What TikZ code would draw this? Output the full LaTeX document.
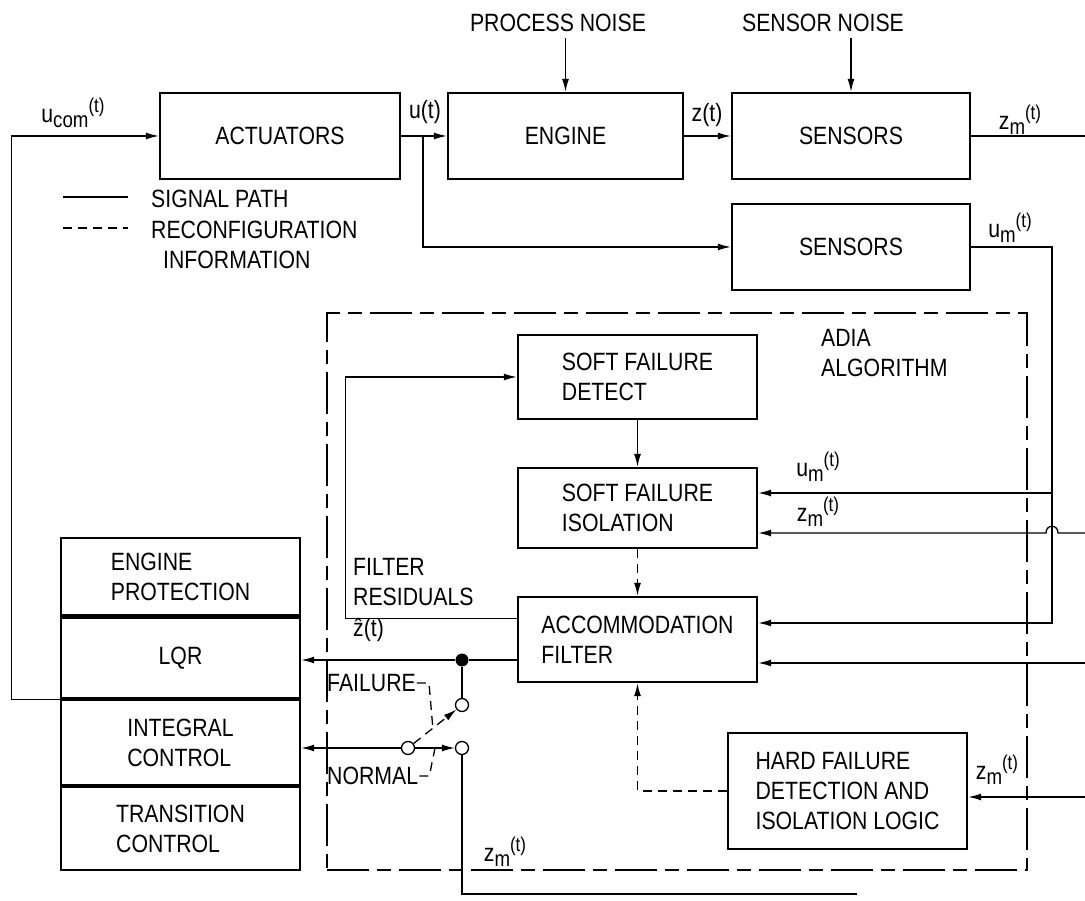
\documentclass[tikz,border=0pt]{standalone}
\usepackage{fontspec}
\setmainfont{Liberation Sans}[FakeStretch=0.85]
\usepackage{tikz}
\usetikzlibrary{arrows.meta,positioning,calc}

\newcommand{\dgfont}{\fontsize{25}{30}\selectfont}
\newcommand{\sig}[2]{#1\raisebox{-0.4ex}{\fontsize{22}{22}\selectfont #2}\raisebox{0.7ex}{\fontsize{20}{20}\selectfont(t)}}

\begin{document}
\begin{tikzpicture}[x=1pt, y=-1pt,
  blk/.style={draw, line width=2.4pt, minimum width=239pt, minimum height=85pt,
              align=left, font=\dgfont, inner sep=2pt},
  txt/.style={font=\dgfont, inner sep=1pt},
  sigl/.style={line width=1.3pt},
  arr/.style={-{Latex[length=13pt,width=7pt]}},
  recon/.style={line width=1.3pt, dash pattern=on 9pt off 6pt},
  adia/.style={draw, line width=1.4pt, dash pattern=on 42pt off 8pt on 14pt off 8pt},
  swnode/.style={circle, draw, line width=1.3pt, minimum size=13pt, inner sep=0pt, fill=white},
  jdot/.style={circle, fill, minimum size=13pt, inner sep=0pt}
]
  \useasboundingbox (0,0) rectangle (1085,901);

  % plant
  \node[blk, minimum width=240pt, minimum height=86pt] (act)   at (280,136)   {ACTUATORS};
  \node[blk, minimum width=235pt, minimum height=86pt] (eng)   at (565.5,136) {ENGINE};
  \node[blk, minimum width=238pt, minimum height=86pt] (sens1) at (851,136)   {SENSORS};
  \node[blk, minimum width=238pt, minimum height=86pt] (sens2) at (851,247)   {SENSORS};

  \node[txt] (pnoise) at (558,23) {PROCESS NOISE};
  \node[txt] (snoise) at (823,23) {SENSOR NOISE};
  \draw[sigl,arr] ([yshift=-5pt]pnoise.south -| eng.north) -- (eng.north);
  \draw[sigl,arr] ([yshift=-5pt]snoise.south -| sens1.north) -- (sens1.north);

  % legend
  \draw[sigl]  (63,197) -- (128,197);
  \draw[recon] (63,228) -- (128,228);
  \node[txt, anchor=west] (lsig) at (150,199) {SIGNAL PATH};
  \node[txt, anchor=west, align=left] (lrec) at (150,245) {RECONFIGURATION\\\hspace{12pt}INFORMATION};

  % controller
  \node[blk, minimum height=77pt] (prot)  at (180.5,576.5) {ENGINE\\PROTECTION};
  \node[blk, minimum height=81pt] (lqr)   at (180.5,658)   {LQR};
  \node[blk, minimum height=85pt] (integ) at (180.5,742.5) {INTEGRAL\\CONTROL};
  \node[blk, minimum height=83pt] (trans) at (180.5,828.5) {TRANSITION\\CONTROL};

  % ADIA algorithm
  \node[adia, minimum width=700pt, minimum height=557pt] (adia) at (677,591.5) {};
  \node[txt, anchor=north west, align=left] (adialbl) at (820,328) {ADIA\\ALGORITHM};

  \node[blk, minimum height=84pt]  (sfd) at (637.5,377) {SOFT FAILURE\\DETECT};
  \node[blk, minimum height=80pt]  (sfi) at (637.5,508) {SOFT FAILURE\\ISOLATION};
  \node[blk, minimum height=85pt]  (acc) at (637.5,639.5) {ACCOMMODATION\\FILTER};
  \node[blk, minimum height=116pt] (hfd) at (847.5,791) {HARD FAILURE\\DETECTION AND\\ISOLATION LOGIC};

  % switch
  \node[jdot]   (jn)  at (462,660) {};
  \node[swnode] (swf) at (462,705) {};
  \node[swnode] (swn) at (462,748) {};
  \node[swnode] (swc) at (408,748) {};

  % forward path
  \draw[sigl,arr] (act) -- (eng);
  \draw[sigl,arr] (eng) -- (sens1);
  \coordinate (ubr) at (423,136);
  \draw[sigl,arr] (ubr) |- (sens2.west);
  \node[txt] (lucom) at (73,113) {\sig{u}{com}};
  \node[txt] (lu)    at (425,112) {u(t)};
  \node[txt] (lz)    at (707,115) {z(t)};
  \draw[sigl,arr] (lqr.south west) -- ++(-48,0) |- (act.west);

  % measurements
  \coordinate (zout) at (1085,136);
  \draw[sigl] (sens1) -- (zout);
  \node[txt] (lzm1) at (1020,120) {\sig{z}{m}};

  \coordinate (umc) at (1052,623);
  \coordinate (umb) at (1052,493);
  \draw[sigl,arr] (sens2.east) -| (umc) -- (umc -| acc.east);
  \draw[sigl,arr] (umb) -- (umb -| sfi.east);
  \node[txt] (lum1) at (1010,228) {\sig{u}{m}};
  \node[txt] (lum2) at (818,467)  {\sig{u}{m}};

  \coordinate (zin1) at (1085,533);
  \draw[sigl,arr] (zin1) -- (1058,533) .. controls (1058,524) and (1046,524) .. (1046,533) -- (zin1 -| sfi.east);
  \node[txt] (lzm2) at (818,512) {\sig{z}{m}};
  \coordinate (zin2) at (1085,663);
  \draw[sigl,arr] (zin2) -- (zin2 -| acc.east);
  \coordinate (zin3) at (1085,797);
  \draw[sigl,arr] (zin3) -- (zin3 -| hfd.east);
  \node[txt] (lzm3) at (997,770) {\sig{z}{m}};

  % inside ADIA
  \draw[sigl,arr] (sfd) -- (sfi);
  \draw[recon,arr] (sfi) -- (acc);
  \draw[recon,arr] (hfd.west) -| (acc.south);
  \draw[sigl,arr] ([yshift=21pt]acc.west) -- ++(-171,0) |- (sfd.west);
  \node[txt, anchor=west, align=left] (lres) at (352,582) {FILTER\\RESIDUALS};
  \node[txt, anchor=west] (lzhat) at (352,630) {\^{z}(t)};

  % switch wiring
  \draw[sigl] (acc.west |- jn) -- (jn);
  \draw[sigl,arr] (jn) -- (jn -| lqr.east);
  \draw[sigl] (jn) -- (swf);
  \draw[sigl,arr] (swc) -- (swc -| integ.east);
  \draw[sigl,arr] (swc) -- coordinate[pos=0.5] (npt) (swn);
  \draw[recon,arr] (swc) -- coordinate[pos=0.45] (fpt) (swf);
  \node[txt, anchor=west] (lfail) at (326,683) {FAILURE};
  \node[txt, anchor=west] (lnorm) at (326,776) {NORMAL};
  \draw[recon] (lfail.east) -- ++(12,0) -- (fpt);
  \draw[recon] (lnorm.east) -- ++(10,0) -- (npt);

  \coordinate (zbot) at (857,894);
  \draw[sigl] (swn) |- (zbot);
  \node[txt] (lzbot) at (505,852) {\sig{z}{m}};
\end{tikzpicture}
\end{document}
